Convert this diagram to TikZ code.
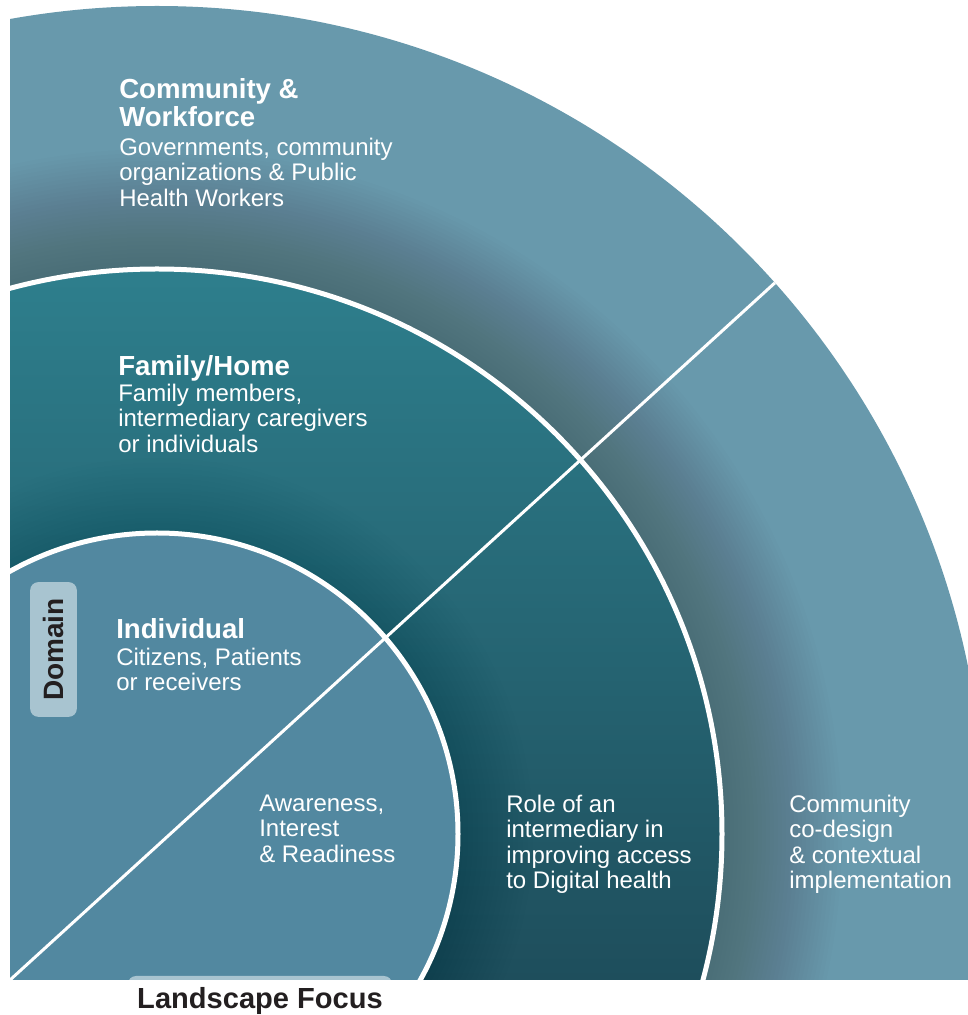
\documentclass[tikz,border=0pt]{standalone}
\usepackage{fontspec}
\setmainfont{Liberation Sans}

\definecolor{outerring}{RGB}{104,153,172}
\definecolor{midtop}{RGB}{46,127,141}
\definecolor{midbottom}{RGB}{30,78,92}
\definecolor{innerdisk}{RGB}{82,136,160}
\definecolor{tagfill}{RGB}{168,196,208}
\definecolor{tagtext}{RGB}{35,31,32}

\begin{document}
\begin{tikzpicture}[x=0.75pt, y=0.75pt,
  title/.style={anchor=north west, inner sep=0pt, align=left, text=white,
    font=\bfseries\fontsize{20.7}{21.4}\selectfont},
  desc/.style={anchor=north west, inner sep=0pt, align=left, text=white,
    font=\fontsize{18}{19.1}\selectfont},
  tag/.style={fill=tagfill, rounded corners=6pt}]

  % Page frame
  \useasboundingbox (0,0) rectangle (968,1015);

  \coordinate (ctr) at (157,181);
  \coordinate (corner) at (10,35);
  \coordinate (rim) at (823,776);

  \begin{scope}
    \clip (10,35) rectangle (968,1015);

    % Outer ring, shaded towards the middle ring
    \fill[outerring] (ctr) circle[radius=828];
    \foreach \r in {0,4,...,120}
      \fill[black, opacity=0.0075] (ctr) circle[radius=565+\r];

    % Middle ring, lighter at the top
    \begin{scope}
      \clip (ctr) circle[radius=565];
      \shade[top color=midtop, bottom color=midbottom] (10,35) rectangle (740,750);
      \foreach \r in {0,5,...,75}
        \fill[black, opacity=0.007] (ctr) circle[radius=301+\r];
    \end{scope}

    % Inner disk
    \fill[innerdisk] (ctr) circle[radius=301];

    % White borders between the rings
    \draw[white, line width=3.75pt] (ctr) circle[radius=301];
    \draw[white, line width=3.75pt] (ctr) circle[radius=565];
    \begin{scope}
      \clip (ctr) circle[radius=828];
      \draw[white, line width=2.25pt] (corner) -- (rim);
    \end{scope}

    % Bottom tab, cut off by the frame
    \fill[tagfill, rounded corners=6pt] (128,-20) rectangle (392,39);
  \end{scope}

  % Domain tab
  \node[tag, rotate=90, minimum width=101pt, minimum height=35pt,
    text=tagtext, font=\bfseries\fontsize{21}{22}\selectfont] (domain) at (53.5,365.5) {Domain};

  % Ring titles and descriptions
  \node[title] (commtitle) at (119,937) {Community \&\\Workforce};
  \node[desc] (commtext) at (119,877.5) {Governments, community\\organizations \& Public\\Health Workers};
  \node[title, anchor=base west] (famtitle) at (118,639) {Family/Home};
  \node[desc] (famtext) at (118,631.5) {Family members,\\intermediary caregivers\\or individuals};
  \node[title, anchor=base west] (indtitle) at (116,376) {Individual};
  \node[desc] (indtext) at (116,367.5) {Citizens, Patients\\or receivers};

  % Focus of each ring
  \node[desc] (readiness) at (259,220.5) {Awareness,\\Interest\\\& Readiness};
  \node[desc] (intermediary) at (506,220.5) {Role of an\\intermediary in\\improving access\\to Digital health};
  \node[desc] (codesign) at (789,220.5) {Community\\co-design\\\& contextual\\implementation};

  \node[anchor=base, text=tagtext, font=\bfseries\fontsize{21.8}{22}\selectfont] (focus) at (260,7) {Landscape Focus};

\end{tikzpicture}
\end{document}
